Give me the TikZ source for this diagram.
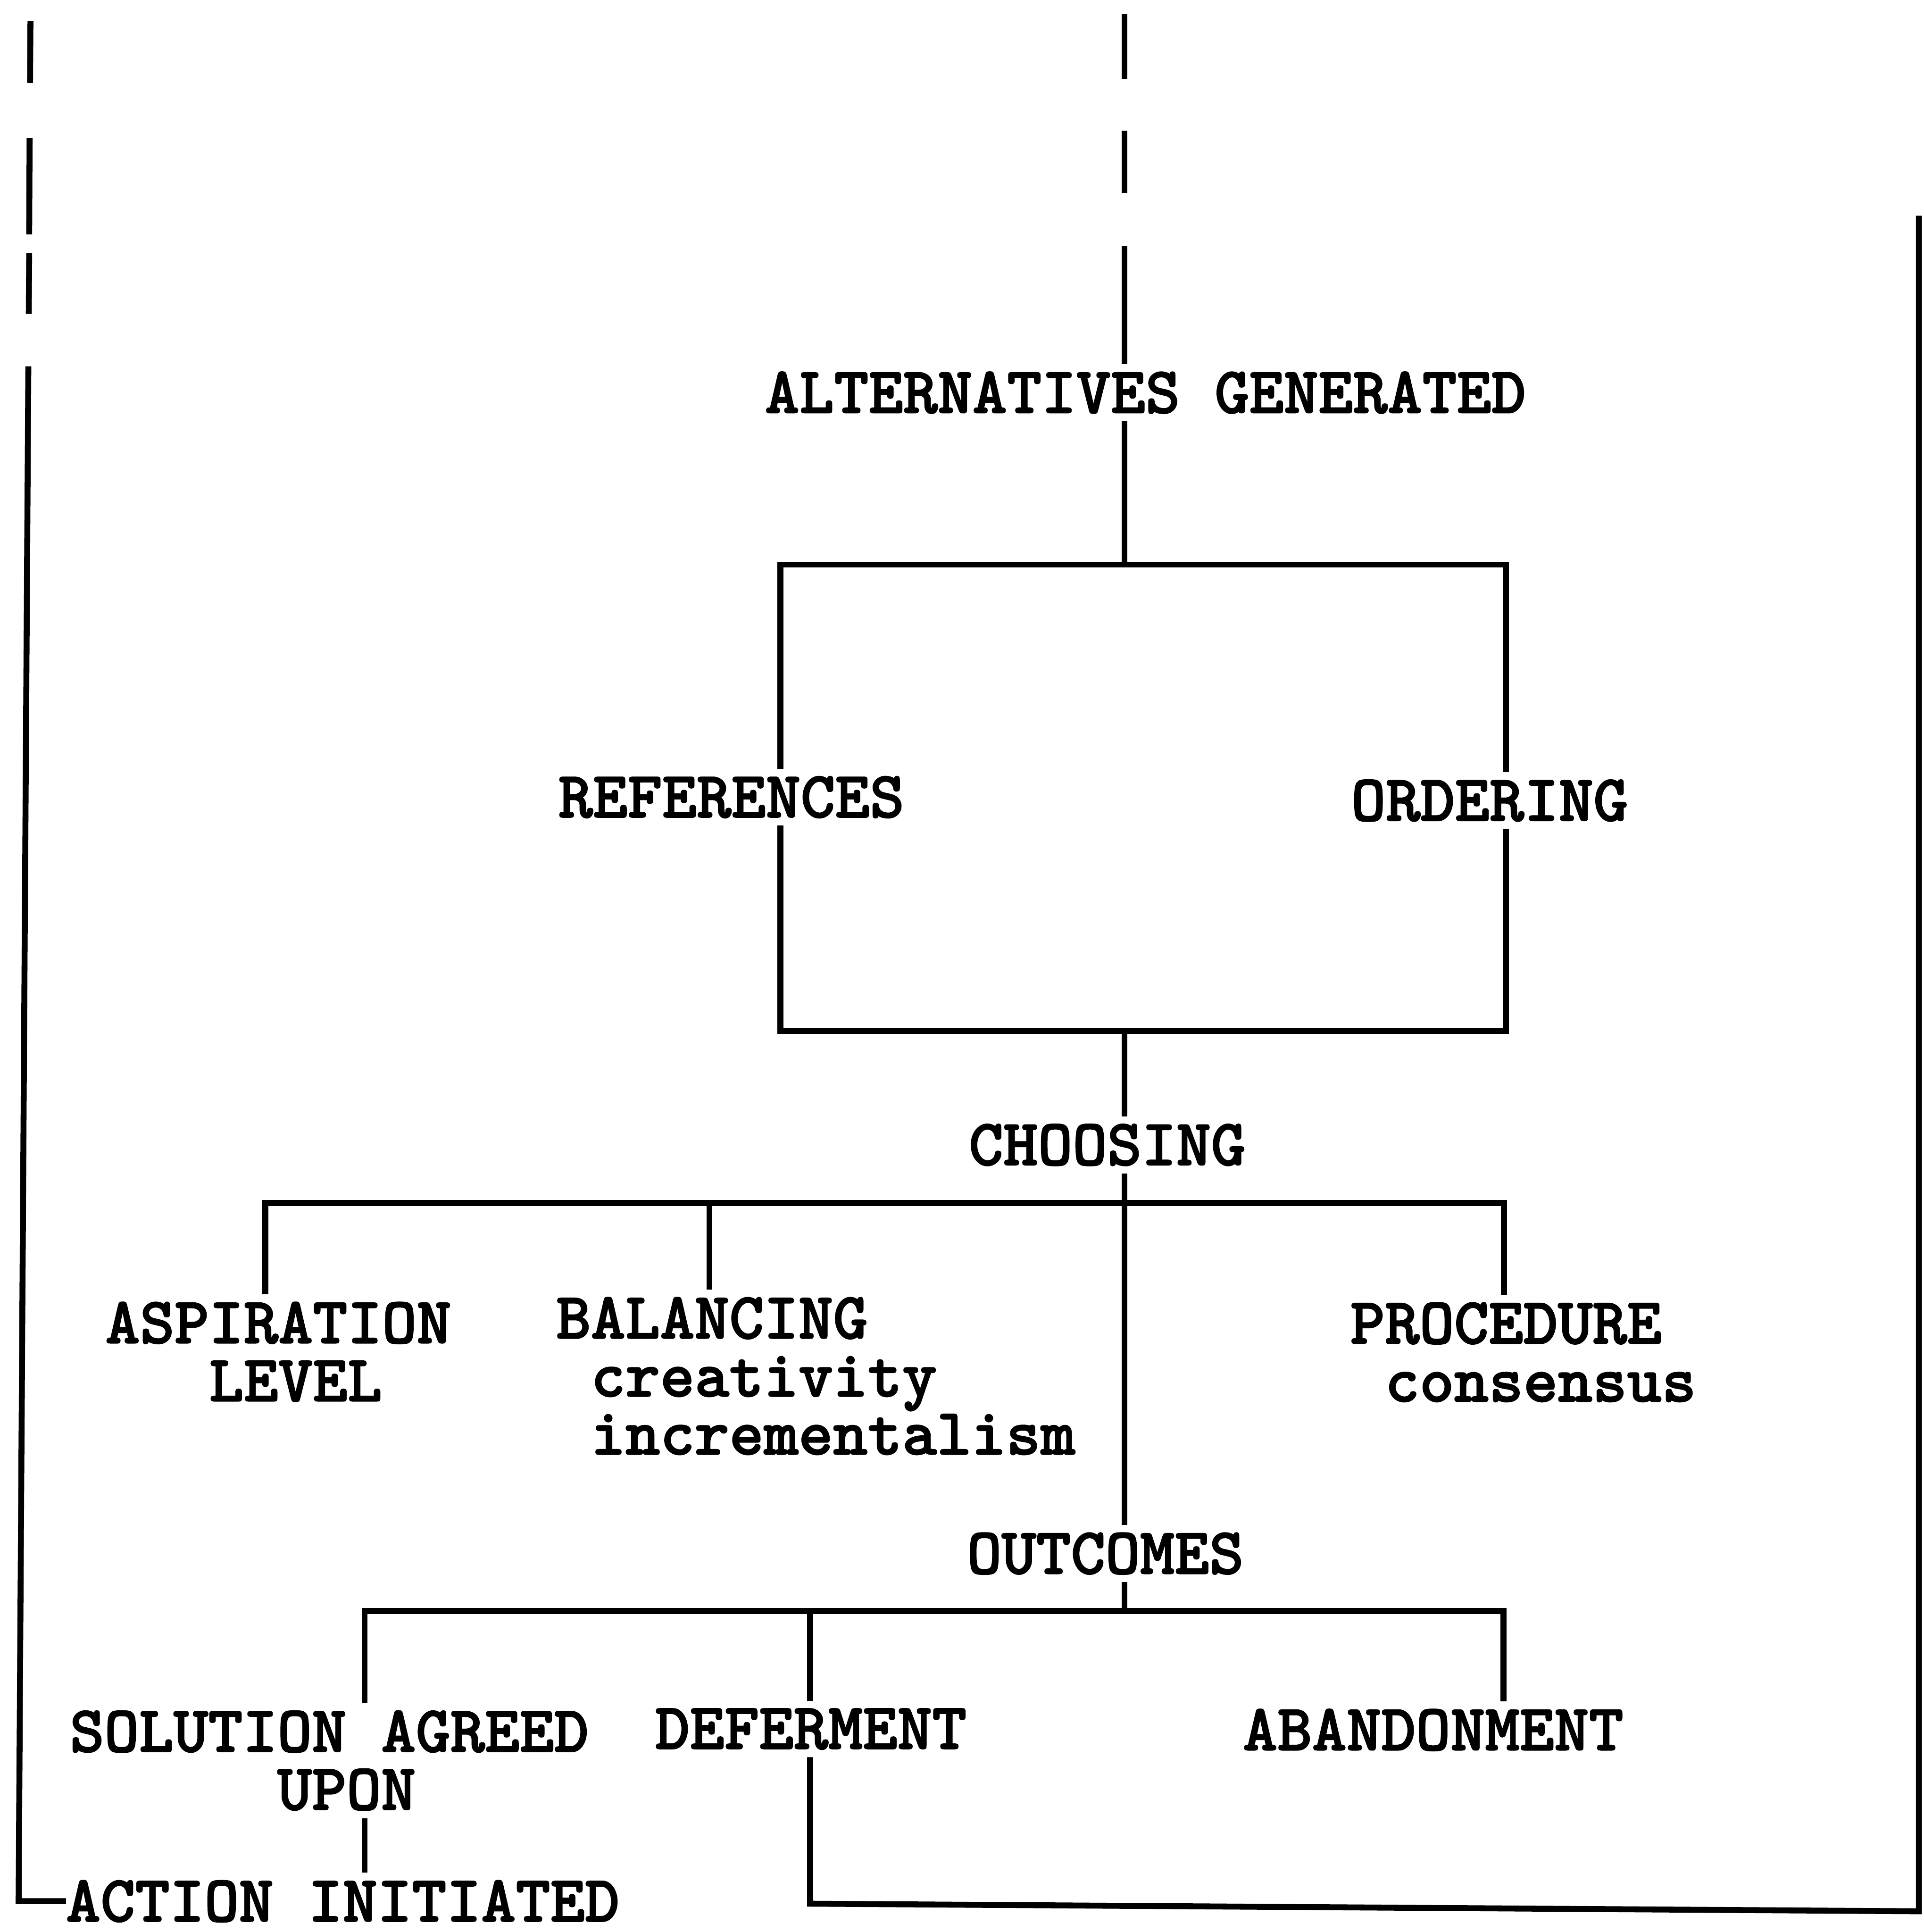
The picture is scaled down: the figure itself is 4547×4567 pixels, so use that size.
\documentclass[tikz,border=0pt]{standalone}
\usepackage{fontspec}
\newfontfamily\twbold{lmmonolt10-bold.otf}[FakeBold=1.6]
\begin{document}
\begin{tikzpicture}[x=0.01cm,y=-0.01cm,
  lbl/.style={anchor=base west, inner xsep=0pt, inner ysep=0.18cm, outer sep=0pt, align=left,
    font=\twbold\fontsize{44.3pt}{39pt}\selectfont},
  wire/.style={line width=0.14cm}]
\useasboundingbox (0,0) rectangle (4547,4567);
% text nodes (base = baseline of the last line)
\node[lbl] (alt)   at (1808,976)  {ALTERNATIVES GENERATED};
\node[lbl] (refs)  at (1320,1932) {REFERENCES};
\node[lbl] (ords)  at (3194,1940) {ORDERING};
\node[lbl] (choos) at (2290,2754) {CHOOSING};
\node[lbl] (asp)   at (249,3312)  {ASPIRATION\\\phantom{ASP}LEVEL};
\node[lbl] (bal)   at (1315,3438) {BALANCING\\\phantom{B}creativity\\\phantom{B}incrementalism};
\node[lbl] (proc)  at (3192,3313) {PROCEDURE\\\phantom{P}consensus};
\node[lbl] (outc)  at (2286,3720) {OUTCOMES};
\node[lbl] (sol)   at (165,4278)  {SOLUTION AGREED\\\phantom{SOLUTI}UPON};
\node[lbl] (def)   at (1549,4134) {DEFERMENT};
\node[lbl] (aban)  at (2938,4137) {ABANDONMENT};
\node[lbl] (act)   at (156,4542)  {ACTION INITIATED};
% box
\node[draw=none, inner sep=0pt, outer sep=0pt, minimum width=17.14cm, minimum height=11.02cm] (box) at (2702,1886) {};
% coordinates
\coordinate (cx) at (2658,0);
\coordinate (c1a) at (2658,34);  \coordinate (c1b) at (2658,186);
\coordinate (c2a) at (2658,309); \coordinate (c2b) at (2658,456);
\coordinate (c3a) at (2658,582);
\coordinate (l1a) at (72,50);  \coordinate (l1b) at (71,196);
\coordinate (l2a) at (70,326); \coordinate (l2b) at (69,554);
\coordinate (l3a) at (69,598); \coordinate (l3b) at (68,742);
\coordinate (l4a) at (67,866); \coordinate (l4b) at (44,4494);
\coordinate (b1l) at (627,2844); \coordinate (b1m) at (1677,2844); \coordinate (b1r) at (3555,2844);
\coordinate (b2l) at (862,3808); \coordinate (b2m) at (1915,3808); \coordinate (b2c) at (2658,3808); \coordinate (b2r) at (3554,3808);
\coordinate (lp1) at (1915,4500); \coordinate (lp2) at (4536,4518); \coordinate (lp3) at (4536,510);
% centre line
\draw[wire] (c1a) -- (c1b);
\draw[wire] (c2a) -- (c2b);
\draw[wire] (c3a) -- (alt.north -| c3a);
\draw[wire] (alt.south -| cx) -- (box.north -| cx);
% box sides
\draw[wire] (refs.north -| box.west) -- (box.north west) -- (box.north east) -- (ords.north -| box.east);
\draw[wire] (refs.south -| box.west) -- (box.south west) -- (box.south east) -- (ords.south -| box.east);
\draw[wire] (box.south -| cx) -- (choos.north -| cx);
\draw[wire] (choos.south -| cx) -- (outc.north -| cx);
% choosing bar
\draw[wire] (asp.north -| b1l) -- (b1l) -- (b1r) -- (proc.north -| b1r);
\draw[wire] (b1m) -- (bal.north -| b1m);
% outcomes bar
\draw[wire] (outc.south -| b2c) -- (b2c);
\draw[wire] (sol.north -| b2l) -- (b2l) -- (b2r) -- (aban.north -| b2r);
\draw[wire] (b2m) -- (def.north -| b2m);
\draw[wire] (sol.south -| b2l) -- (act.north -| b2l);
% deferment loop
\draw[wire] (def.south -| lp1) -- (lp1) -- (lp2) -- (lp3);
% left feedback line
\draw[wire] (l1a) -- (l1b);
\draw[wire] (l2a) -- (l2b);
\draw[wire] (l3a) -- (l3b);
\draw[wire] (l4a) -- (l4b) -- (l4b -| act.west);
\end{tikzpicture}
\end{document}
